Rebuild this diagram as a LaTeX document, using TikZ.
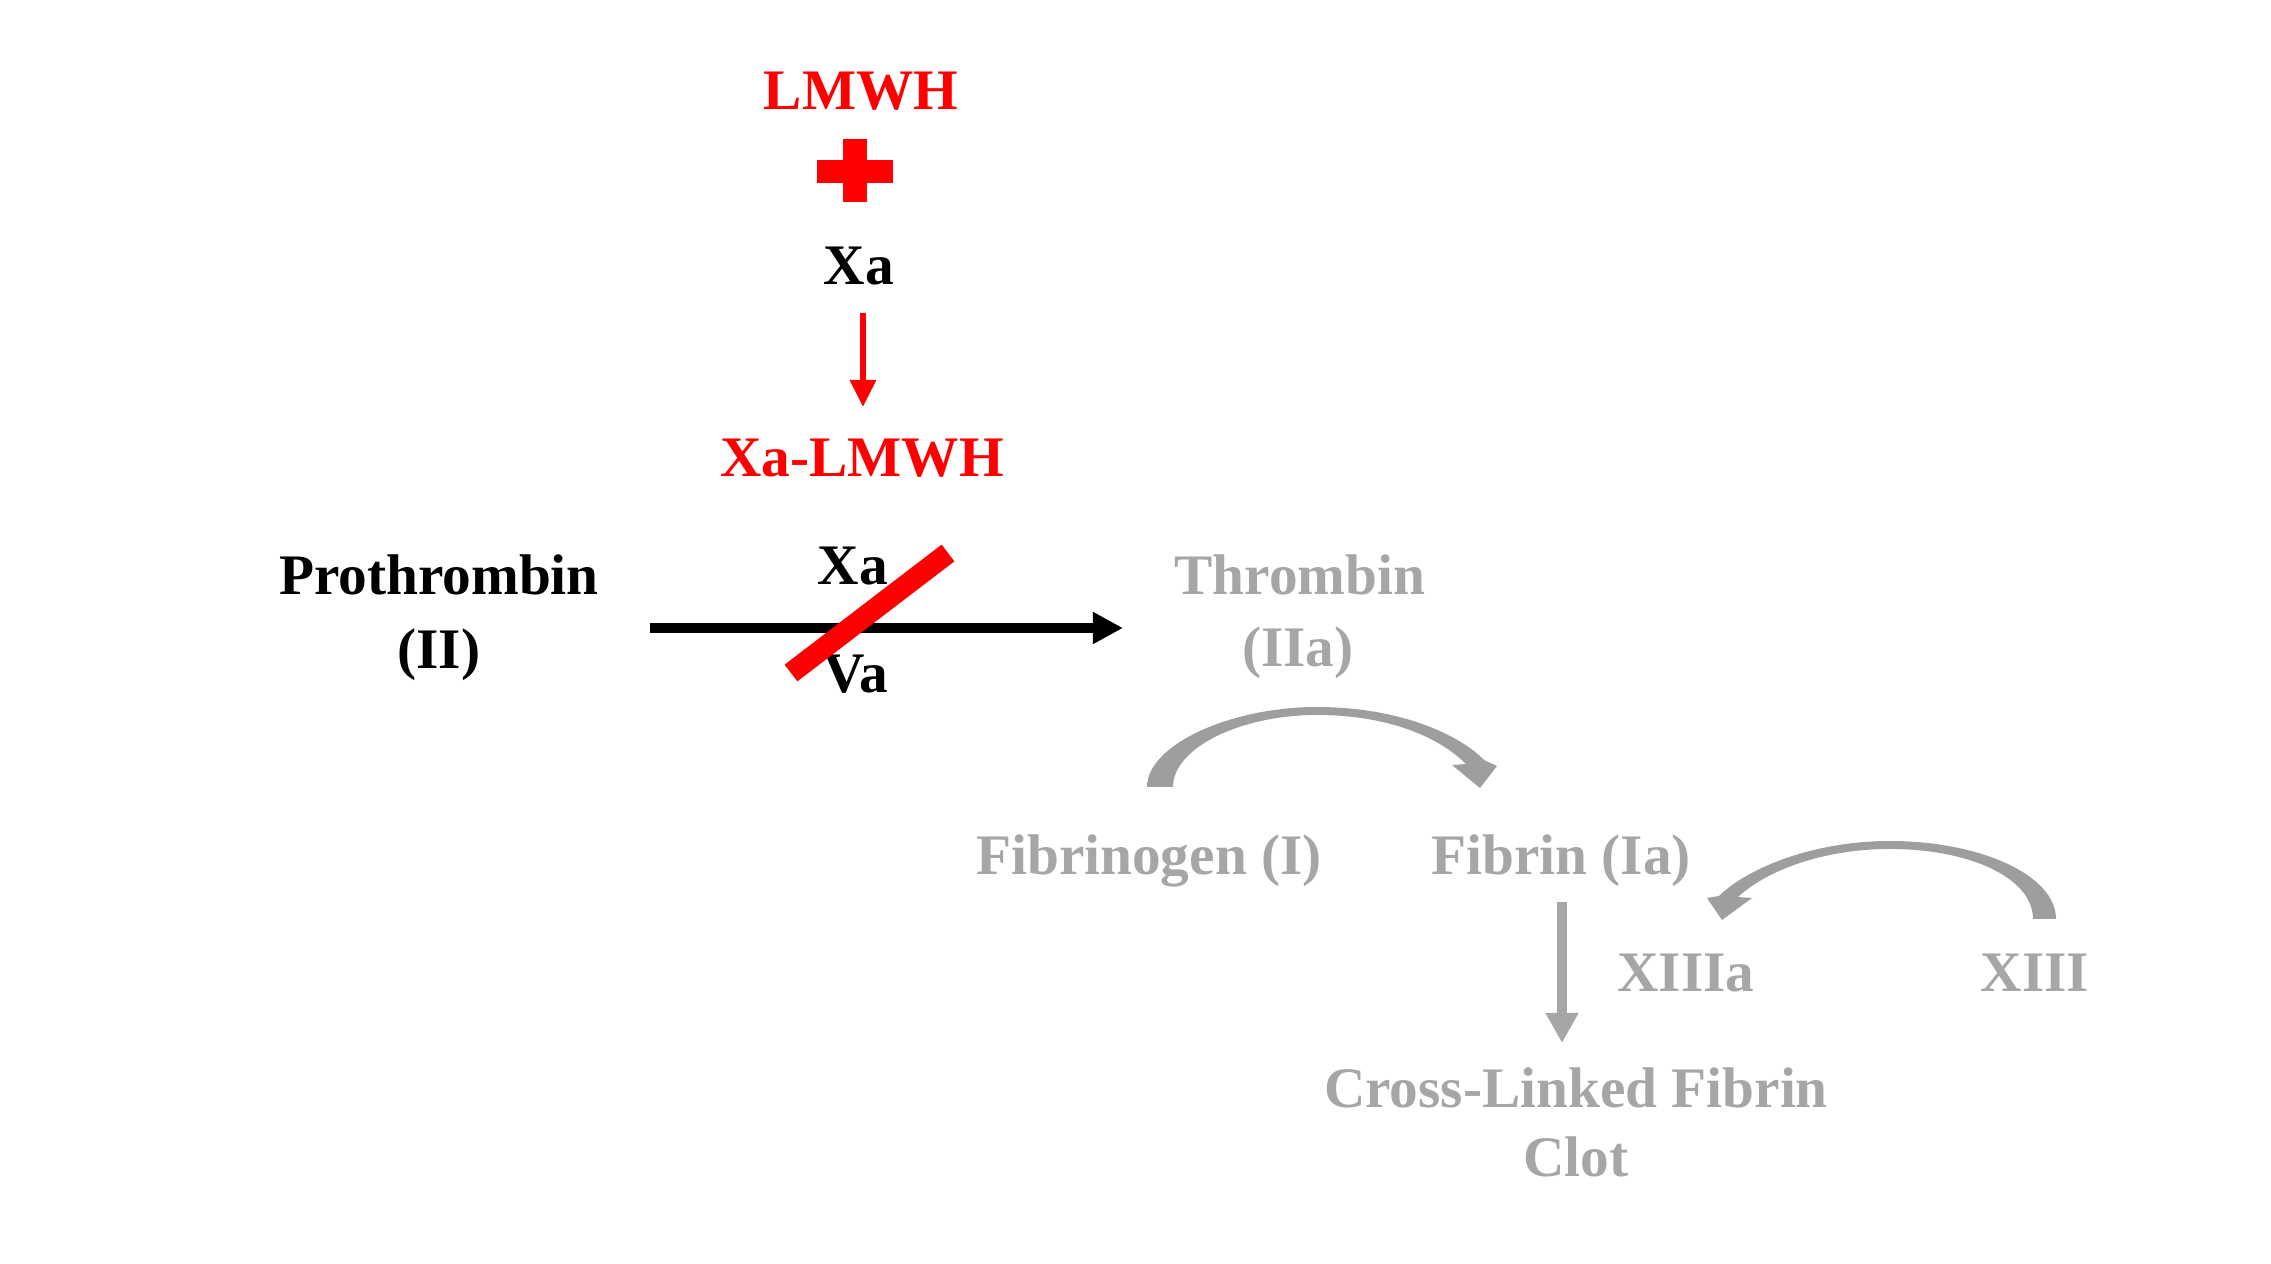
\documentclass[tikz,border=0pt]{standalone}
\usepackage{fontspec}
\setmainfont{Liberation Serif}
\usetikzlibrary{arrows.meta,calc}
\definecolor{lmred}{RGB}{255,0,0}
\definecolor{fadegray}{RGB}{166,166,166}
\definecolor{arcgray}{RGB}{158,158,158}
\begin{document}
\begin{tikzpicture}[x=0.01cm,y=-0.01cm,
  lbl/.style={font=\bfseries\fontsize{16.3}{19}\selectfont, inner sep=0pt, anchor=base},
  redlbl/.style={lbl, text=lmred},
  blklbl/.style={lbl, text=black},
  graylbl/.style={lbl, text=fadegray},
  redarrow/.style={draw=lmred, line width=0.06cm, -{Triangle[length=0.27cm,width=0.25cm]}},
  blkarrow/.style={draw=black, line width=0.10cm, -{Triangle[length=0.30cm,width=0.30cm]}},
  grayarrow/.style={draw=fadegray, line width=0.10cm, -{Triangle[length=0.30cm,width=0.31cm]}},
  slash/.style={draw=lmred, line width=0.21cm},
  curvearrow/.style={fill=arcgray, draw=none}]
\useasboundingbox (0,0) rectangle (2271,1264);

% labels
\node[redlbl] (lmwh) at (861,110) {LMWH};
\node[blklbl] (xa1) at (859,285) {Xa};
\node[redlbl] (xalmwh) at (862,477) {Xa-LMWH};
\node[blklbl] (pro) at (439,595) {Prothrombin};
\node[blklbl] (proii) at (439,669) {(II)};
\node[blklbl] (xa2) at (853,585) {Xa};
\node[blklbl] (va) at (856,693) {Va};
\node[graylbl] (thr) at (1300,595) {Thrombin};
\node[graylbl] (thrii) at (1298,667) {(IIa)};
\node[graylbl] (fibg) at (1149,875) {Fibrinogen (I)};
\node[graylbl] (fib) at (1561,875) {Fibrin (Ia)};
\node[graylbl] (x13a) at (1686,992) {XIIIa};
\node[graylbl] (x13) at (2035,992) {XIII};
\node[graylbl] (clot1) at (1576,1107) {Cross-Linked Fibrin};
\node[graylbl] (clot2) at (1576,1177) {Clot};

% plus sign
\coordinate (plus) at (855,170);
\fill[lmred] ($(plus)+(-12,-31)$) rectangle ($(plus)+(12,32)$);
\fill[lmred] ($(plus)+(-38,-10)$) rectangle ($(plus)+(38,13)$);

% red arrow Xa -> Xa-LMWH
\draw[redarrow] ($(xa1.base)+(4,28)$) -- ($(xalmwh.base)+(1,-70)$);

% black arrow Prothrombin -> Thrombin
\draw[blkarrow] ($(pro.base)+(211,33)$) -- ($(thr.base)+(-177,33)$);

% red slash over the reaction
\draw[slash] ($(va.base)+(-65,-20)$) -- ($(xa2.base)+(95,-32)$);

% gray arrow Fibrin -> Cross-linked clot
\draw[grayarrow] ($(fib.base)+(1,27)$) -- ($(clot1.base)+(-14,-64)$);

% curved arrow Fibrinogen -> Fibrin
\fill[curvearrow] (1147,787) .. controls (1147,745) and (1230,707) .. (1317,707)
  .. controls (1400,707) and (1460,735) .. (1484,760)
  -- (1497,766) -- (1480,788) -- (1452,765) -- (1466,764)
  .. controls (1440,738) and (1390,715) .. (1317,715)
  .. controls (1240,715) and (1173,748) .. (1173,787) -- cycle;

% curved arrow XIII -> XIIIa
\fill[curvearrow] (2056,919) .. controls (2056,875) and (1980,841) .. (1890,841)
  .. controls (1810,841) and (1745,870) .. (1719,896)
  -- (1707,898) -- (1722,920) -- (1752,898) -- (1738,897)
  .. controls (1765,872) and (1820,849) .. (1890,849)
  .. controls (1970,849) and (2033,878) .. (2033,919) -- cycle;
\end{tikzpicture}
\end{document}
